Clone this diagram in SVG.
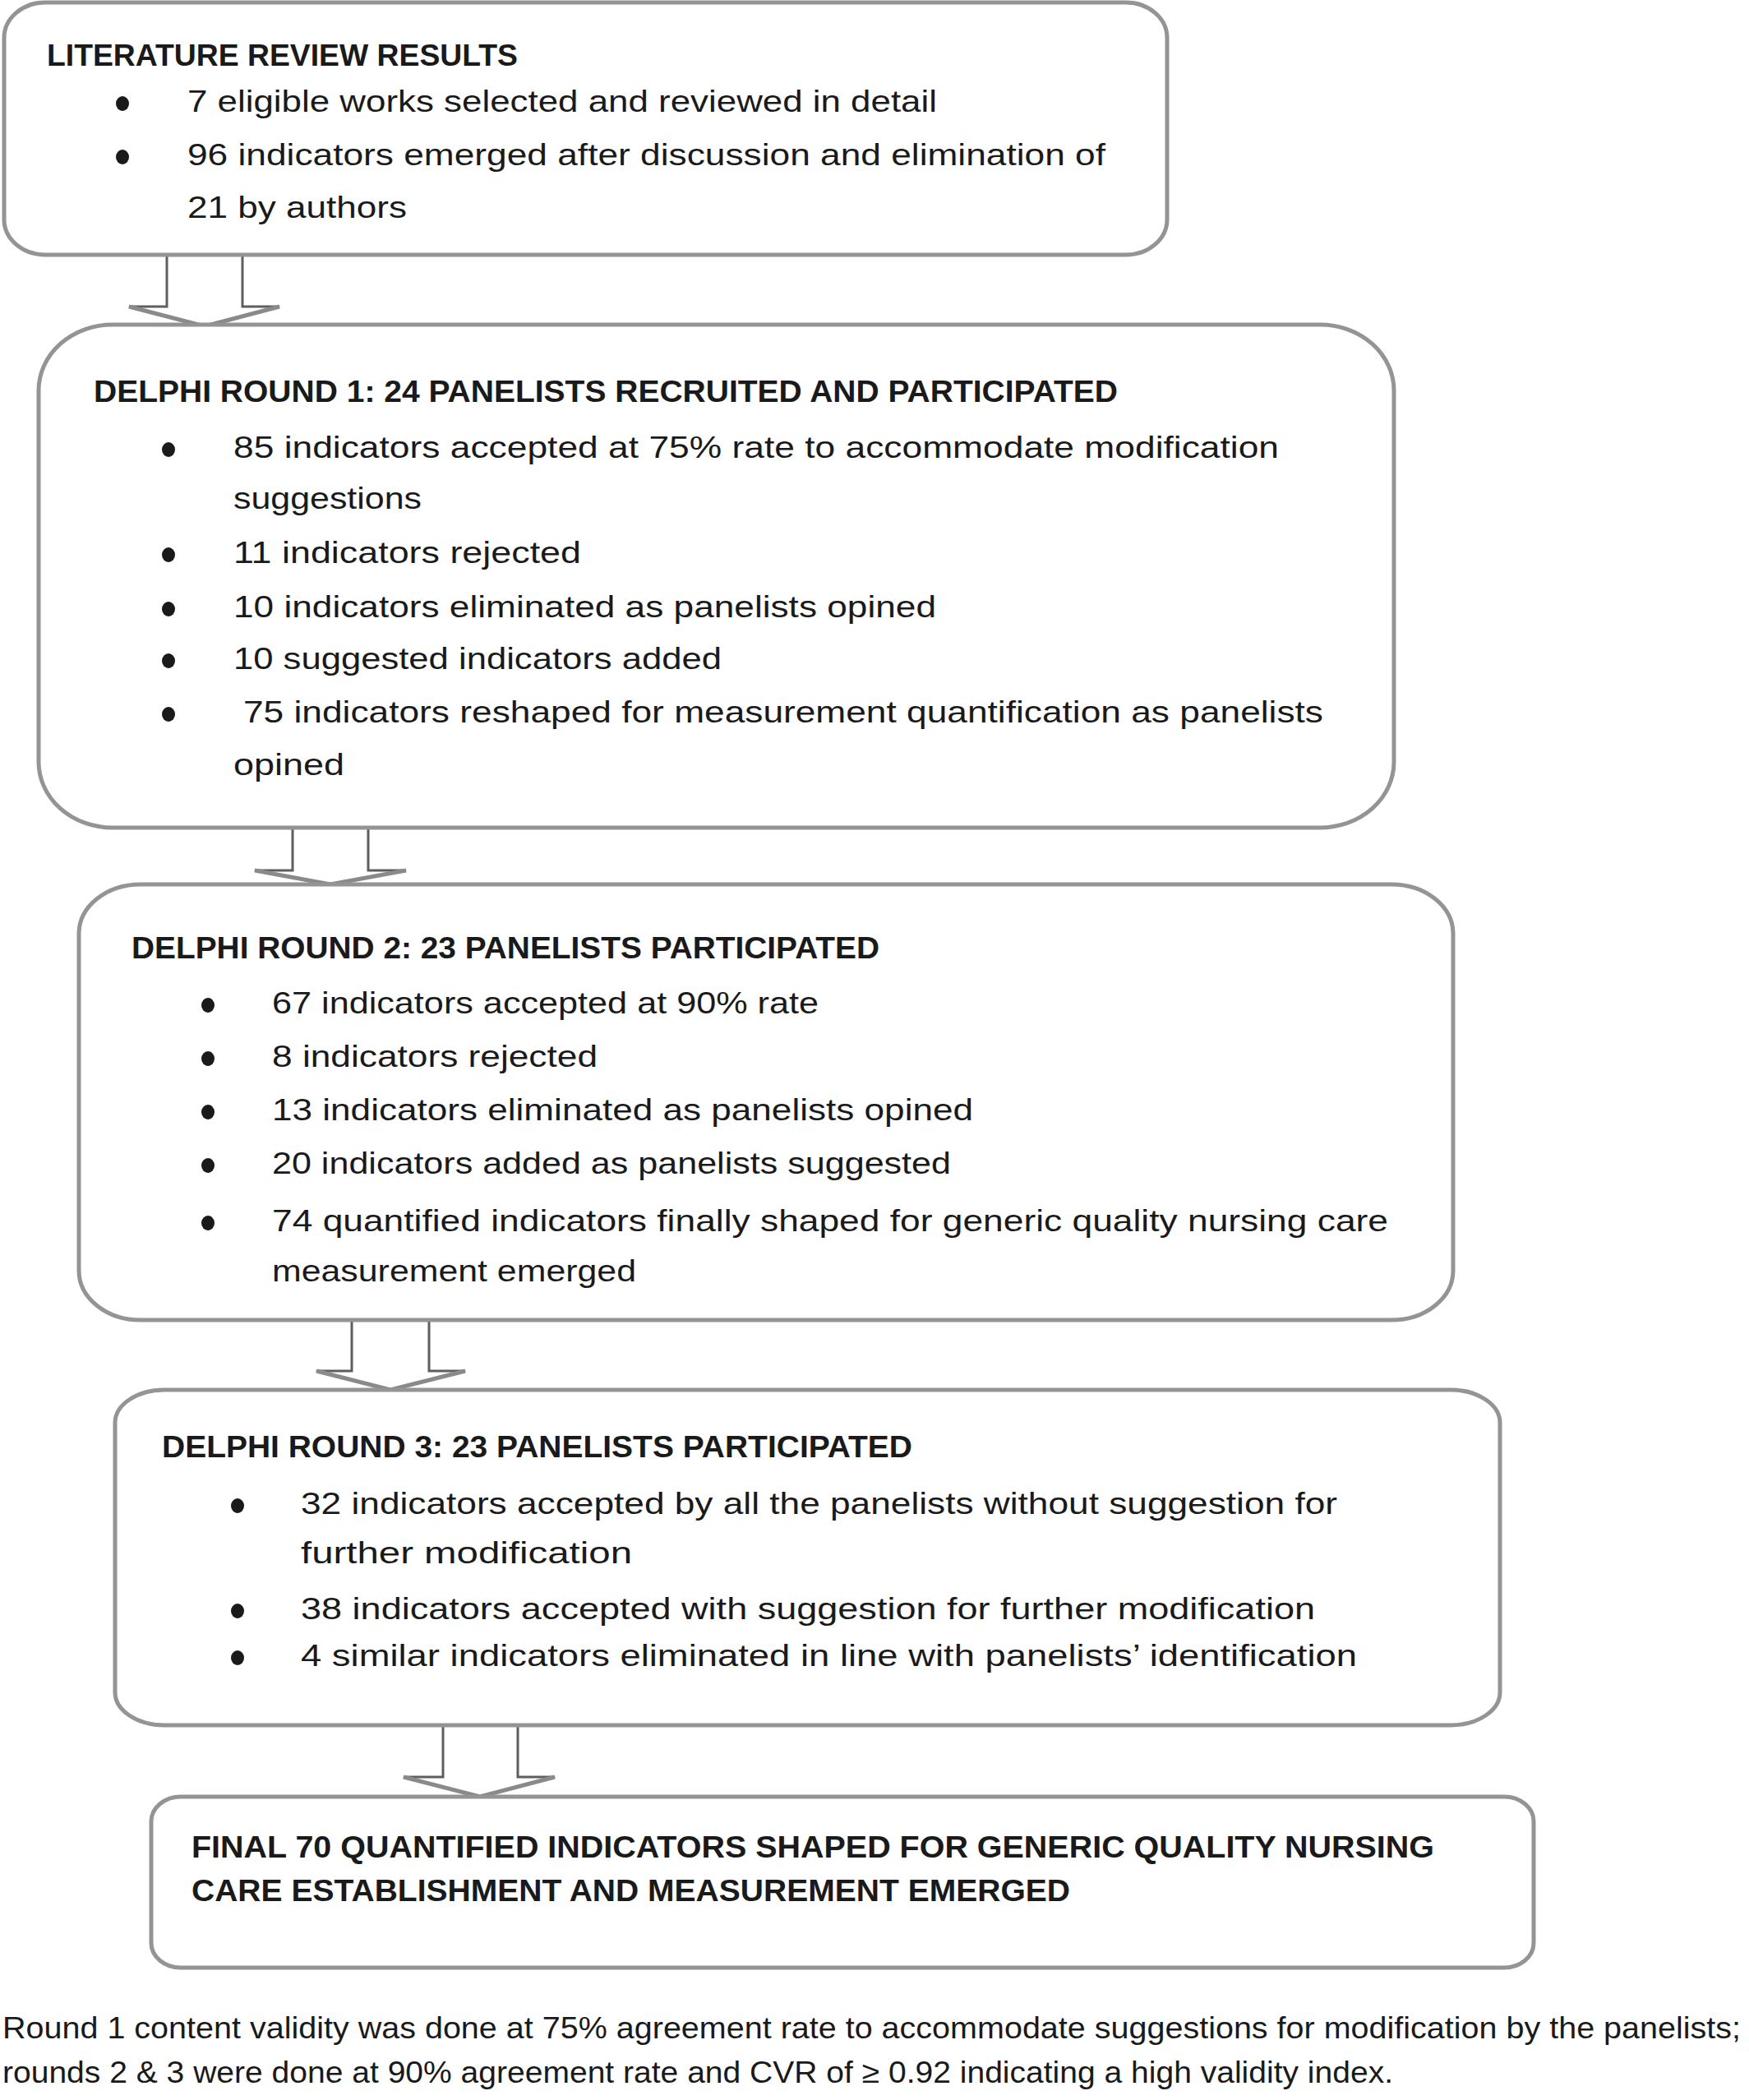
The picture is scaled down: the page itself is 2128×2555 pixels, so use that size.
<svg xmlns="http://www.w3.org/2000/svg" width="2128" height="2555" viewBox="0 0 2128 2555">
<style>
.box{fill:#ffffff;stroke:#949494;stroke-width:5}
.arrow{fill:#ffffff;stroke:#5e5e5e;stroke-width:3;stroke-linejoin:miter}
.head{fill:none;stroke:#8a8a8a;stroke-width:5}
.t{font-family:"Liberation Sans",Arial,sans-serif;font-size:37px;fill:#1a1a1a}
.b{font-family:"Liberation Sans",Arial,sans-serif;font-size:36px;font-weight:bold;fill:#1a1a1a}
.c{font-family:"Liberation Sans",Arial,sans-serif;font-size:37px;fill:#1a1a1a}
.dot{fill:#1a1a1a}
</style>
<rect width="2128" height="2555" fill="#ffffff"/>
<g id="connectors">
<polygon class="arrow" points="203,310 295,310 295,373 340,373 249,397 157,373 203,373"/>
<polyline class="head" points="157,373 249,397 340,373"/>
<polygon class="arrow" points="356,1007 448,1007 448,1059 494,1059 402,1076 310,1059 356,1059"/>
<polyline class="head" points="310,1059 402,1076 494,1059"/>
<polygon class="arrow" points="428,1606 522,1606 522,1668 566,1668 475,1691 385,1668 428,1668"/>
<polyline class="head" points="385,1668 475,1691 566,1668"/>
<polygon class="arrow" points="539,2097 630,2097 630,2162 675,2162 584,2186 491,2162 539,2162"/>
<polyline class="head" points="491,2162 584,2186 675,2162"/>
</g>
<g id="node-literature">
<rect class="box" x="5" y="3" width="1415" height="307" rx="50" ry="43"/>
<text class="b" x="57" y="80" textLength="573" lengthAdjust="spacingAndGlyphs">LITERATURE  REVIEW  RESULTS</text>
<ellipse class="dot" cx="149" cy="126" rx="8" ry="9"/>
<text class="t" x="228" y="136" textLength="912" lengthAdjust="spacingAndGlyphs">7 eligible works selected and reviewed in detail</text>
<ellipse class="dot" cx="149" cy="191" rx="8" ry="9"/>
<text class="t" x="228" y="201" textLength="1117" lengthAdjust="spacingAndGlyphs">96 indicators emerged after discussion and elimination of</text>
<text class="t" x="228" y="265" textLength="267" lengthAdjust="spacingAndGlyphs">21 by authors</text>
</g>
<g id="node-round1">
<rect class="box" x="47" y="395" width="1649" height="612" rx="90" ry="80"/>
<text class="b" x="114" y="489" textLength="1246" lengthAdjust="spacingAndGlyphs">DELPHI  ROUND 1: 24 PANELISTS  RECRUITED  AND  PARTICIPATED</text>
<ellipse class="dot" cx="205" cy="547" rx="8" ry="9"/>
<text class="t" x="284" y="557" textLength="1272" lengthAdjust="spacingAndGlyphs">85 indicators accepted at 75% rate to accommodate modification</text>
<text class="t" x="284" y="619" textLength="229" lengthAdjust="spacingAndGlyphs">suggestions</text>
<ellipse class="dot" cx="205" cy="675" rx="8" ry="9"/>
<text class="t" x="284" y="685" textLength="423" lengthAdjust="spacingAndGlyphs">11 indicators rejected</text>
<ellipse class="dot" cx="205" cy="741" rx="8" ry="9"/>
<text class="t" x="284" y="751" textLength="855" lengthAdjust="spacingAndGlyphs">10 indicators eliminated as panelists opined</text>
<ellipse class="dot" cx="205" cy="804" rx="8" ry="9"/>
<text class="t" x="284" y="814" textLength="594" lengthAdjust="spacingAndGlyphs">10 suggested indicators added</text>
<ellipse class="dot" cx="205" cy="869" rx="8" ry="9"/>
<text class="t" x="296" y="879" textLength="1314" lengthAdjust="spacingAndGlyphs">75 indicators reshaped for measurement quantification as panelists</text>
<text class="t" x="284" y="943" textLength="135" lengthAdjust="spacingAndGlyphs">opined</text>
</g>
<g id="node-round2">
<rect class="box" x="96" y="1076" width="1672" height="530" rx="75" ry="60"/>
<text class="b" x="160" y="1166" textLength="910" lengthAdjust="spacingAndGlyphs">DELPHI  ROUND 2: 23 PANELISTS  PARTICIPATED</text>
<ellipse class="dot" cx="253" cy="1223" rx="8" ry="9"/>
<text class="t" x="331" y="1233" textLength="665" lengthAdjust="spacingAndGlyphs">67 indicators accepted at 90% rate</text>
<ellipse class="dot" cx="253" cy="1288" rx="8" ry="9"/>
<text class="t" x="331" y="1298" textLength="396" lengthAdjust="spacingAndGlyphs">8 indicators rejected</text>
<ellipse class="dot" cx="253" cy="1353" rx="8" ry="9"/>
<text class="t" x="331" y="1363" textLength="853" lengthAdjust="spacingAndGlyphs">13 indicators eliminated as panelists opined</text>
<ellipse class="dot" cx="253" cy="1418" rx="8" ry="9"/>
<text class="t" x="331" y="1428" textLength="826" lengthAdjust="spacingAndGlyphs">20 indicators added as panelists suggested</text>
<ellipse class="dot" cx="253" cy="1488" rx="8" ry="9"/>
<text class="t" x="331" y="1498" textLength="1358" lengthAdjust="spacingAndGlyphs">74 quantified indicators finally shaped for generic quality nursing care</text>
<text class="t" x="331" y="1559" textLength="443" lengthAdjust="spacingAndGlyphs">measurement  emerged</text>
</g>
<g id="node-round3">
<rect class="box" x="140" y="1691" width="1685" height="408" rx="60" ry="40"/>
<text class="b" x="197" y="1773" textLength="913" lengthAdjust="spacingAndGlyphs">DELPHI  ROUND 3: 23 PANELISTS  PARTICIPATED</text>
<ellipse class="dot" cx="289" cy="1832" rx="8" ry="9"/>
<text class="t" x="366" y="1842" textLength="1261" lengthAdjust="spacingAndGlyphs">32 indicators accepted by all the panelists without suggestion for</text>
<text class="t" x="366" y="1902" textLength="403" lengthAdjust="spacingAndGlyphs">further modification</text>
<ellipse class="dot" cx="289" cy="1960" rx="8" ry="9"/>
<text class="t" x="366" y="1970" textLength="1234" lengthAdjust="spacingAndGlyphs">38 indicators accepted with suggestion for further modification</text>
<ellipse class="dot" cx="289" cy="2017" rx="8" ry="9"/>
<text class="t" x="366" y="2027" textLength="1285" lengthAdjust="spacingAndGlyphs">4 similar indicators eliminated in line with panelists’ identification</text>
</g>
<g id="node-final">
<rect class="box" x="184" y="2186" width="1682" height="208" rx="36" ry="30"/>
<text class="b" x="233" y="2260" textLength="1512" lengthAdjust="spacingAndGlyphs">FINAL 70 QUANTIFIED  INDICATORS  SHAPED  FOR GENERIC  QUALITY  NURSING</text>
<text class="b" x="233" y="2313" textLength="1069" lengthAdjust="spacingAndGlyphs">CARE ESTABLISHMENT  AND MEASUREMENT  EMERGED</text>
</g>
<g id="caption">
<text class="c" x="3" y="2480" textLength="2115" lengthAdjust="spacingAndGlyphs">Round 1 content validity was done at 75% agreement rate to accommodate suggestions for modification by the panelists;</text>
<text class="c" x="3" y="2534" textLength="1692" lengthAdjust="spacingAndGlyphs">rounds 2 &amp; 3 were done at 90% agreement rate and CVR of ≥ 0.92 indicating a high validity index.</text>
</g>
</svg>
